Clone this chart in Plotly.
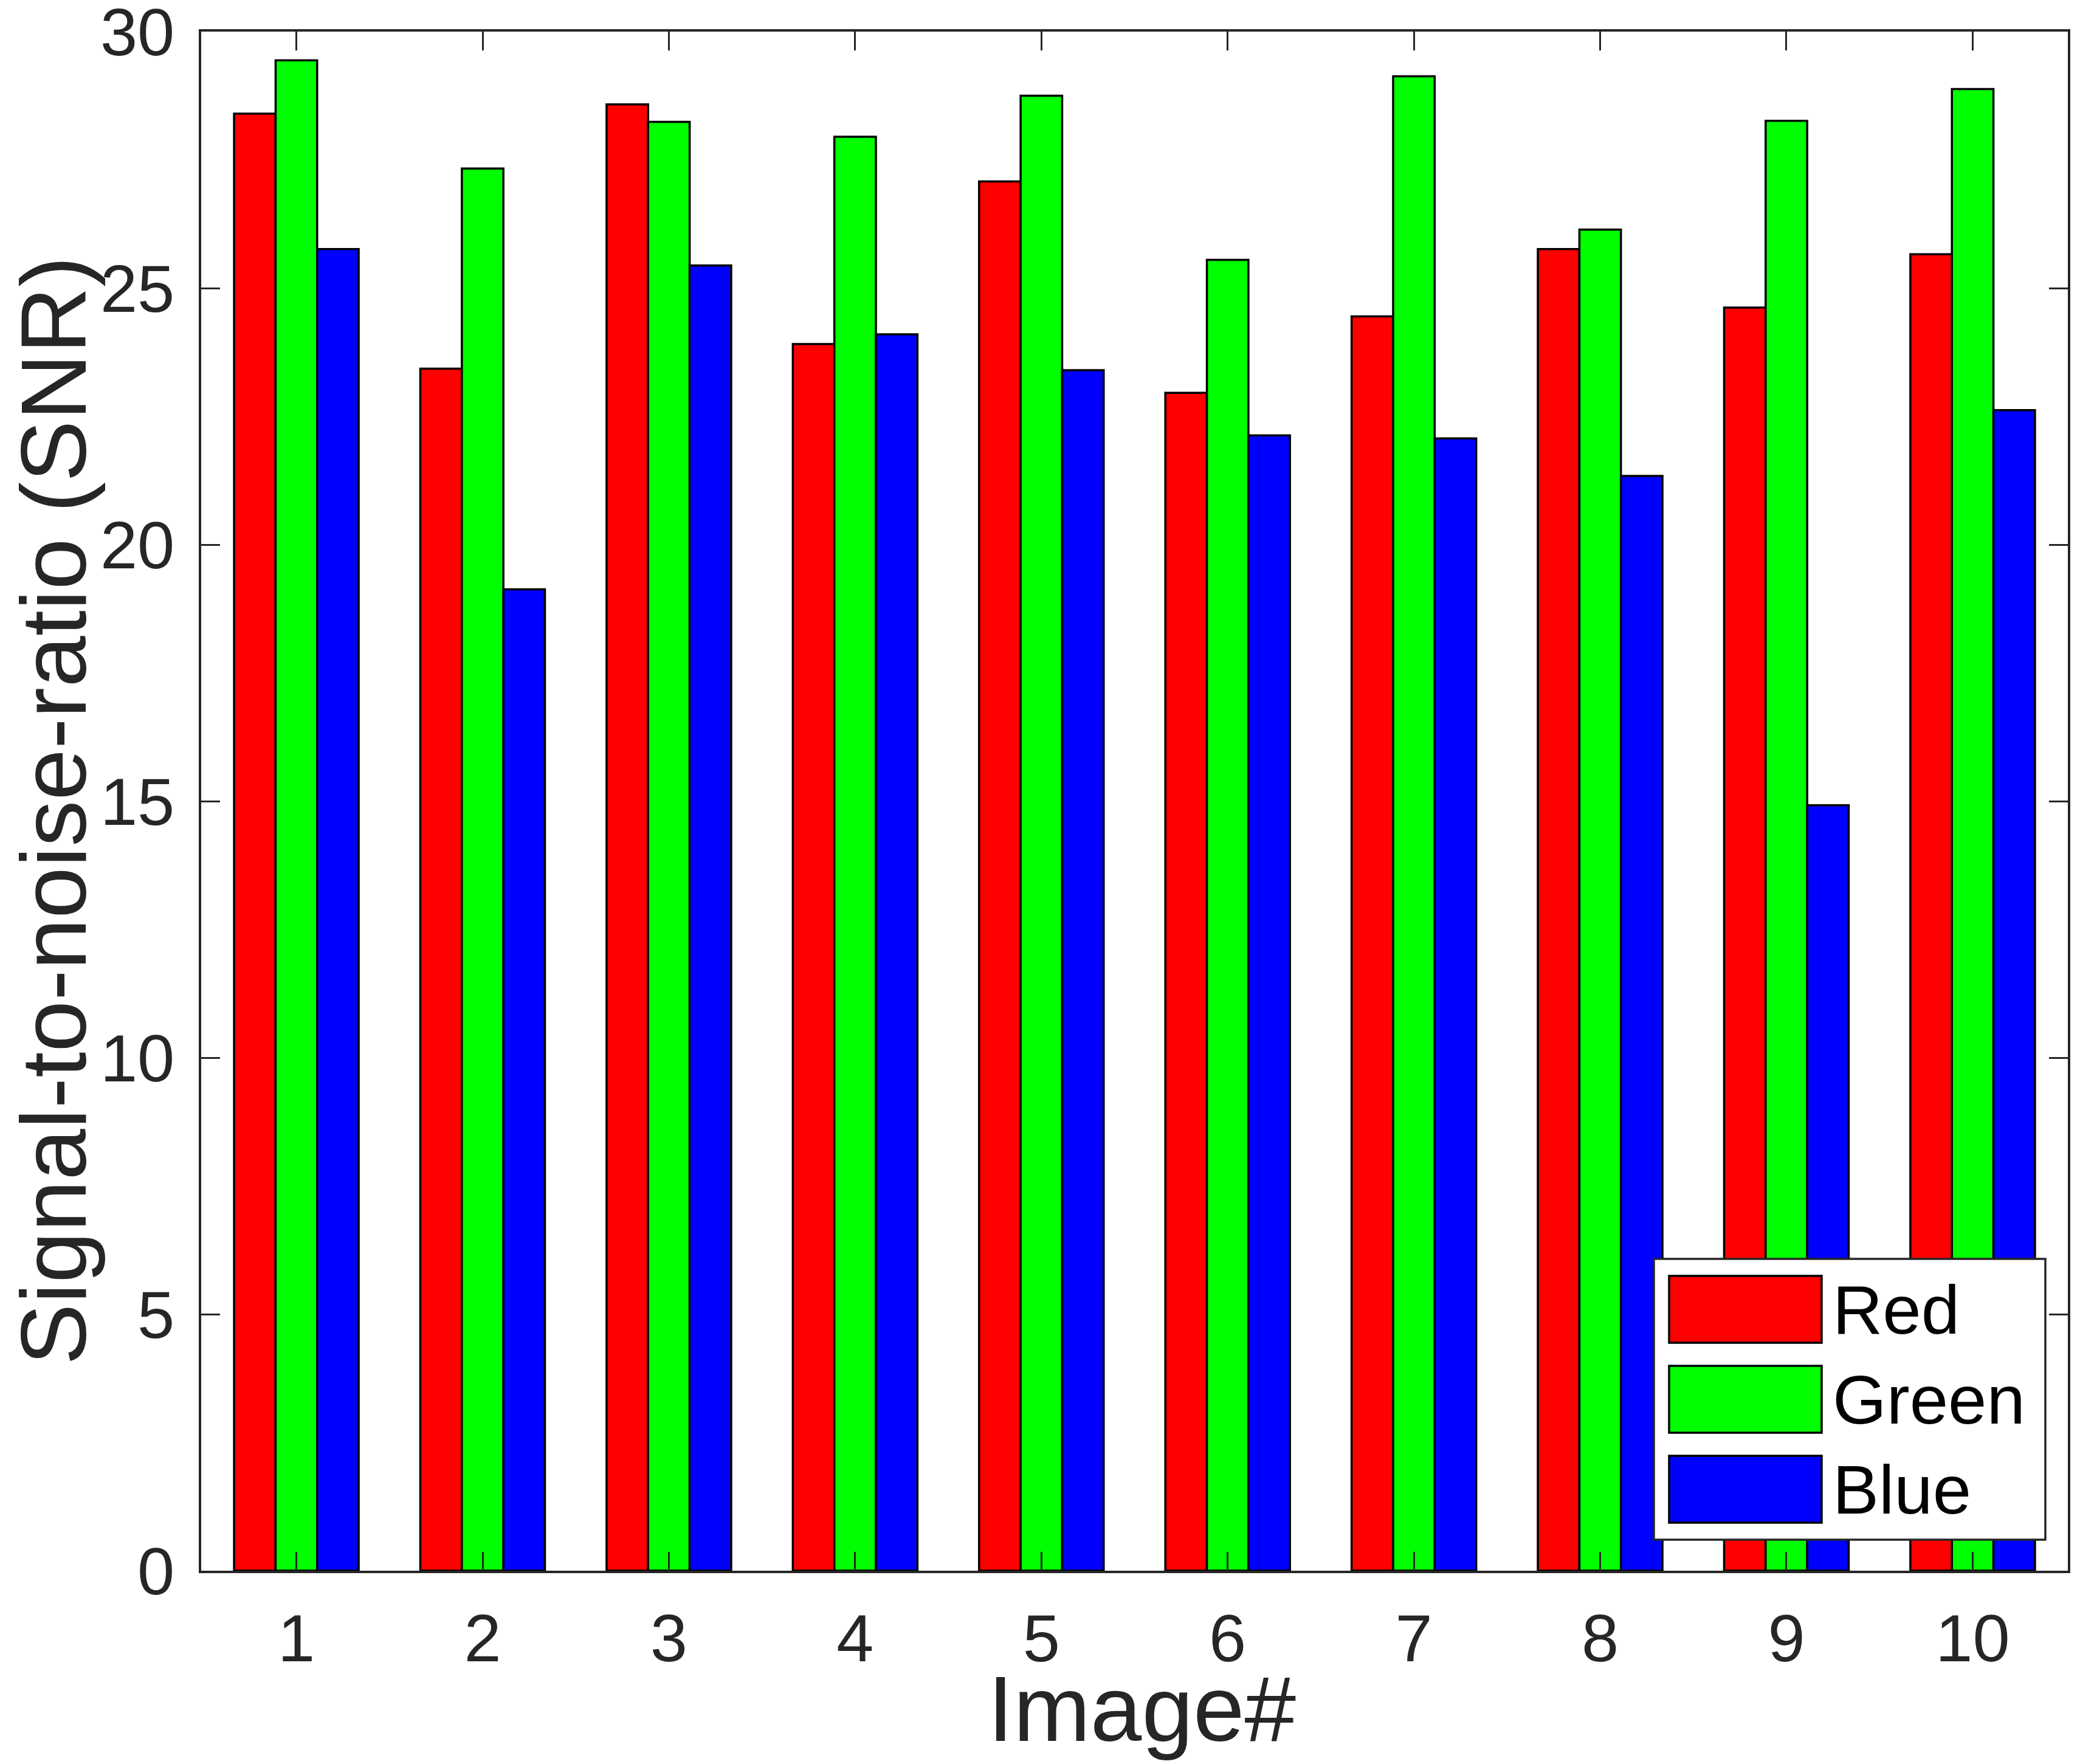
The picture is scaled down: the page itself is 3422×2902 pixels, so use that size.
import plotly.graph_objects as go

images = [1, 2, 3, 4, 5, 6, 7, 8, 9, 10]
red_snr = [28.40, 23.43, 28.58, 23.91, 27.08, 22.96, 24.45, 25.76, 24.62, 25.66]
green_snr = [29.44, 27.33, 28.24, 27.95, 28.75, 25.55, 29.13, 26.14, 28.26, 28.88]
blue_snr = [25.76, 19.13, 25.44, 24.10, 23.40, 22.13, 22.07, 21.34, 14.92, 22.62]
series_names = ["Red", "Green", "Blue"]
y_ticks = [0, 5, 10, 15, 20, 25, 30]
x_title = "Image#"
y_title = "Signal-to-noise-ratio (SNR)"

colors = {"Red": "#FF0000", "Green": "#00FF00", "Blue": "#0000FF"}
values = {"Red": red_snr, "Green": green_snr, "Blue": blue_snr}

W, H = 3422, 2902
L, R, T, B = 323, 3394, 44, 2576
FONT = "Liberation Sans, Arial, sans-serif"
AX = "#262626"
TICK_FS = 110
TITLE_FS = 152

fig = go.Figure()
for name in series_names:
    fig.add_trace(go.Bar(
        x=images, y=values[name], name=name,
        marker=dict(color=colors[name], line=dict(color="black", width=3.5)),
        showlegend=False,
    ))

fig.update_layout(
    width=W, height=H,
    margin=dict(l=L, r=W - R, t=T, b=H - B, autoexpand=False),
    paper_bgcolor="white", plot_bgcolor="white",
    barmode="group", bargap=0.331, bargroupgap=0,
    font=dict(family=FONT, color=AX, size=TICK_FS),
)

fig.update_xaxes(
    range=[0.489, 10.511], tickvals=images, ticktext=[str(i) for i in images],
    ticks="inside", ticklen=31, tickwidth=3, tickcolor=AX,
    showline=True, linewidth=3.5, linecolor=AX, mirror="ticks",
    showgrid=False, zeroline=False, ticklabelstandoff=13, ticklabeloverflow="allow",
    tickfont=dict(family=FONT, size=TICK_FS, color=AX),
    automargin=False,
)
fig.update_yaxes(
    range=[0, 30], tickvals=y_ticks,
    ticks="inside", ticklen=31, tickwidth=3, tickcolor=AX,
    showline=True, linewidth=3.5, linecolor=AX, mirror="ticks",
    showgrid=False, zeroline=False, ticklabelstandoff=18, ticklabeloverflow="allow",
    tickfont=dict(family=FONT, size=TICK_FS, color=AX),
    automargin=False,
)

pw, ph = R - L, B - T
def px(x):
    return (x - L) / pw
def py(y):
    return (B - y) / ph

# Axis titles
fig.add_annotation(xref="paper", yref="paper", x=px(1870), y=py(2803),
                   text=x_title, showarrow=False, xanchor="center", yanchor="middle",
                   font=dict(family=FONT, size=TITLE_FS, color=AX))
fig.add_annotation(xref="paper", yref="paper", x=px(80), y=py(1326),
                   text=y_title, showarrow=False, textangle=-90,
                   xanchor="center", yanchor="middle",
                   font=dict(family=FONT, size=TITLE_FS, color=AX))

# Legend (drawn to match the large MATLAB-style swatches)
fig.add_shape(type="rect", xref="paper", yref="paper",
              x0=px(2713), x1=px(3357), y0=py(2525), y1=py(2063),
              fillcolor="white", line=dict(color=AX, width=3.5), layer="above")
sw_top = [2091, 2239, 2387]
for name, top in zip(series_names, sw_top):
    fig.add_shape(type="rect", xref="paper", yref="paper",
                  x0=px(2738), x1=px(2989), y0=py(top + 110), y1=py(top),
                  fillcolor=colors[name], line=dict(color="black", width=3.5), layer="above")
    fig.add_annotation(xref="paper", yref="paper", x=px(3005), y=py(top + 55),
                       text=name, showarrow=False, xanchor="left", yanchor="middle",
                       font=dict(family=FONT, size=114, color="black"))

fig.write_html("out.html")
